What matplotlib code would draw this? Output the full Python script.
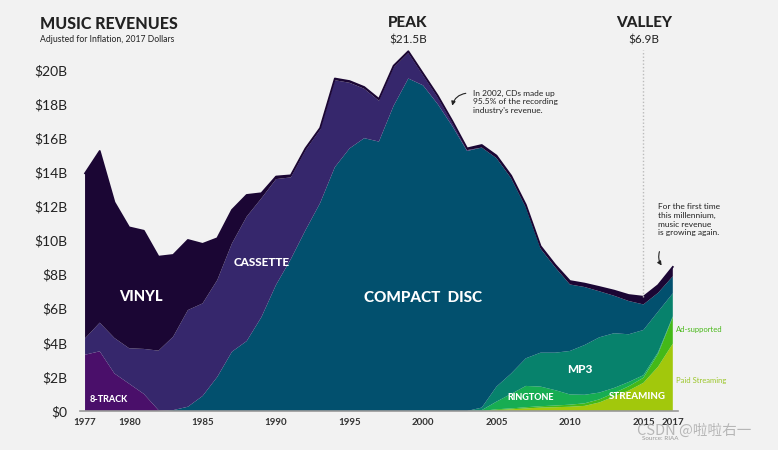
import matplotlib
matplotlib.use("Agg")
import matplotlib.pyplot as plt

years = list(range(1977, 2018))

eight_track = [3.3, 3.5, 2.2, 1.6, 1.0, 0.05] + [0] * 35

cassette = [0.96, 1.68, 2.08, 2.08, 2.64, 3.49, 4.31, 5.67, 5.43, 5.68,
            6.35, 7.3, 6.97, 6.2, 4.8, 4.7, 4.3, 5.1, 3.85, 2.9,
            2.4, 2.25, 1.5, 0.6, 0.4, 0.2, 0.05] + [0] * 14

vinyl = [9.68, 10.07, 7.96, 7.09, 6.93, 5.51, 4.79, 4.11, 3.49, 2.45,
         1.96, 1.27, 0.3, 0.15, 0.12, 0.1, 0.1, 0.1, 0.1, 0.1,
         0.1, 0.1, 0.1, 0.1, 0.1, 0.1, 0.1, 0.15, 0.15, 0.15,
         0.15, 0.15, 0.15, 0.2, 0.2, 0.25, 0.3, 0.35, 0.45, 0.45, 0.55]

cd = [0, 0, 0, 0, 0, 0, 0.05, 0.25, 0.88, 2.0,
      3.48, 4.1, 5.5, 7.4, 8.9, 10.6, 12.2, 14.3, 15.4, 16.0,
      15.8, 17.9, 19.5, 19.1, 18.0, 16.7, 15.25, 15.25, 13.4, 11.45,
      8.85, 6.1, 5.0, 3.9, 3.4, 2.7, 2.2, 1.95, 1.5, 1.1, 1.0]

# digital formats start in 2004
pad = [0] * 27
mp3 = pad + [0.15, 0.88, 1.2, 1.62, 1.99, 2.2, 2.55, 2.92, 3.24, 3.21, 2.8, 2.65, 2.38, 1.35]
ringtone = pad + [0.05, 0.45, 0.85, 1.25, 1.15, 0.9, 0.6, 0.5, 0.4, 0.3, 0.25, 0.15, 0.1, 0.05]
ad_supported = pad + [0.0, 0.05, 0.05, 0.07, 0.08, 0.1, 0.12, 0.15, 0.18, 0.2, 0.25, 0.3, 0.75, 1.55]
paid_streaming = pad + [0.0, 0.05, 0.1, 0.15, 0.2, 0.22, 0.25, 0.3, 0.5, 0.85, 1.2, 1.65, 2.6, 3.95]

xtick_years = [1977, 1980, 1985, 1990, 1995, 2000, 2005, 2010, 2015, 2017]
ytick_vals = list(range(0, 21, 2))

bg = "#f2f2f2"
c_paid = "#a2c80c"
c_ad = "#44b918"
c_ring = "#17ad52"
c_mp3 = "#07826c"
c_cd = "#02506e"
c_8tr = "#4a0f6a"
c_cas = "#36276c"
c_vin = "#1b0634"
dark = "#222222"

plt.rcParams['font.family'] = ['Lato', 'DejaVu Sans']

fig = plt.figure(figsize=(7.78, 4.5), dpi=100, facecolor=bg)
ax = fig.add_axes([0.1027, 0.0867, 0.7687, 0.8525])
ax.set_facecolor(bg)

ax.stackplot(years, paid_streaming, ad_supported, ringtone, mp3, cd,
             eight_track, cassette, vinyl,
             colors=[c_paid, c_ad, c_ring, c_mp3, c_cd, c_8tr, c_cas, c_vin],
             linewidth=0)
total = [sum(v) for v in zip(paid_streaming, ad_supported, ringtone, mp3, cd,
                             eight_track, cassette, vinyl)]
ax.plot(years, total, color=c_vin, lw=1.3)

ax.set_xlim(1976.65, 2017.35)
ax.set_ylim(0, 22.5)
for s in ["top", "right", "left"]:
    ax.spines[s].set_visible(False)
ax.spines["bottom"].set_color("#999999")
ax.spines["bottom"].set_linewidth(1.2)
ax.set_xticks(xtick_years)
ax.set_xticklabels([str(y) for y in xtick_years], fontsize=7, fontweight="bold", color="#333333")
ax.set_yticks(ytick_vals)
ax.set_yticklabels(["$0"] + ["$%dB" % v for v in ytick_vals[1:]], fontsize=10, color=dark)
ax.tick_params(axis="y", length=0, pad=9)
ax.tick_params(axis="x", length=0, pad=5)

# titles
fig.text(40 / 778, 1 - 24 / 450, "MUSIC REVENUES", fontsize=11.5, fontweight="black",
         color=dark, va="center", ha="left")
fig.text(40 / 778, 1 - 40 / 450, "Adjusted for Inflation, 2017 Dollars", fontsize=6.2,
         color=dark, va="center", ha="left")

# peak and valley
fig.text(408 / 778, 1 - 23 / 450, "PEAK", fontsize=11, fontweight="black", color=dark,
         ha="center", va="center")
fig.text(408 / 778, 1 - 40 / 450, "$21.5B", fontsize=8.5, color=dark, ha="center", va="center")
fig.text(644 / 778, 1 - 23 / 450, "VALLEY", fontsize=11, fontweight="black", color=dark,
         ha="center", va="center")
fig.text(644 / 778, 1 - 40 / 450, "$6.9B", fontsize=8.5, color=dark, ha="center", va="center")
ax.plot([2015, 2015], [total[38], 21.2], color="#bbbbbb", lw=1, ls=(0, (1, 1.5)))

# notes
ax.text(2003.4, 18.85, "In 2002, CDs made up\n95.5% of the recording\nindustry's revenue.",
        fontsize=6, color=dark, va="top", ha="left", linespacing=1.3)
ax.annotate("", xy=(2001.95, 17.75), xytext=(2003.1, 18.65),
            arrowprops=dict(arrowstyle="-|>", color=dark, lw=0.8, mutation_scale=6,
                            connectionstyle="arc3,rad=0.4"))
ax.text(2016.0, 12.2, "For the first time\nthis millennium,\nmusic revenue\nis growing again.",
        fontsize=6, color=dark, va="top", ha="left", linespacing=1.3)
ax.annotate("", xy=(2016.35, 8.4), xytext=(2016.15, 9.5),
            arrowprops=dict(arrowstyle="-|>", color=dark, lw=0.8, mutation_scale=6,
                            connectionstyle="arc3,rad=0.3"))

# area labels
lbl = dict(color="white", fontweight="black", ha="center", va="center")
ax.text(1980.8, 6.7, "VINYL", fontsize=10.5, **lbl)
ax.text(1989.0, 8.7, "CASSETTE", fontsize=8.5, **lbl)
ax.text(2000.0, 6.6, "COMPACT  DISC", fontsize=11, **lbl)
ax.text(1978.6, 0.7, "8-TRACK", fontsize=6.5, **lbl)
ax.text(2010.7, 2.45, "MP3", fontsize=8.5, **lbl)
ax.text(2007.3, 0.8, "RINGTONE", fontsize=6.5, **lbl)
ax.text(2014.6, 0.85, "STREAMING", fontsize=7, **lbl)

ax.text(2017.2, 4.75, "Ad-supported", fontsize=5.5, color="#49b81a", va="center", ha="left")
ax.text(2017.2, 1.8, "Paid Streaming", fontsize=5.5, color="#9cc62a", va="center", ha="left")

fig.text(660 / 778, 1 - 438 / 450, "Source: RIAA", fontsize=4.5, color="#999999", ha="center", va="center")
fig.text(694 / 778, 1 - 431 / 450, "CSDN @啦啦右一", fontsize=10.5, color="#a8a8a8", alpha=0.8,
         ha="center", va="center", family=["Noto Sans CJK SC", "DejaVu Sans"])

fig.savefig("out.png", dpi=100, facecolor=bg)
